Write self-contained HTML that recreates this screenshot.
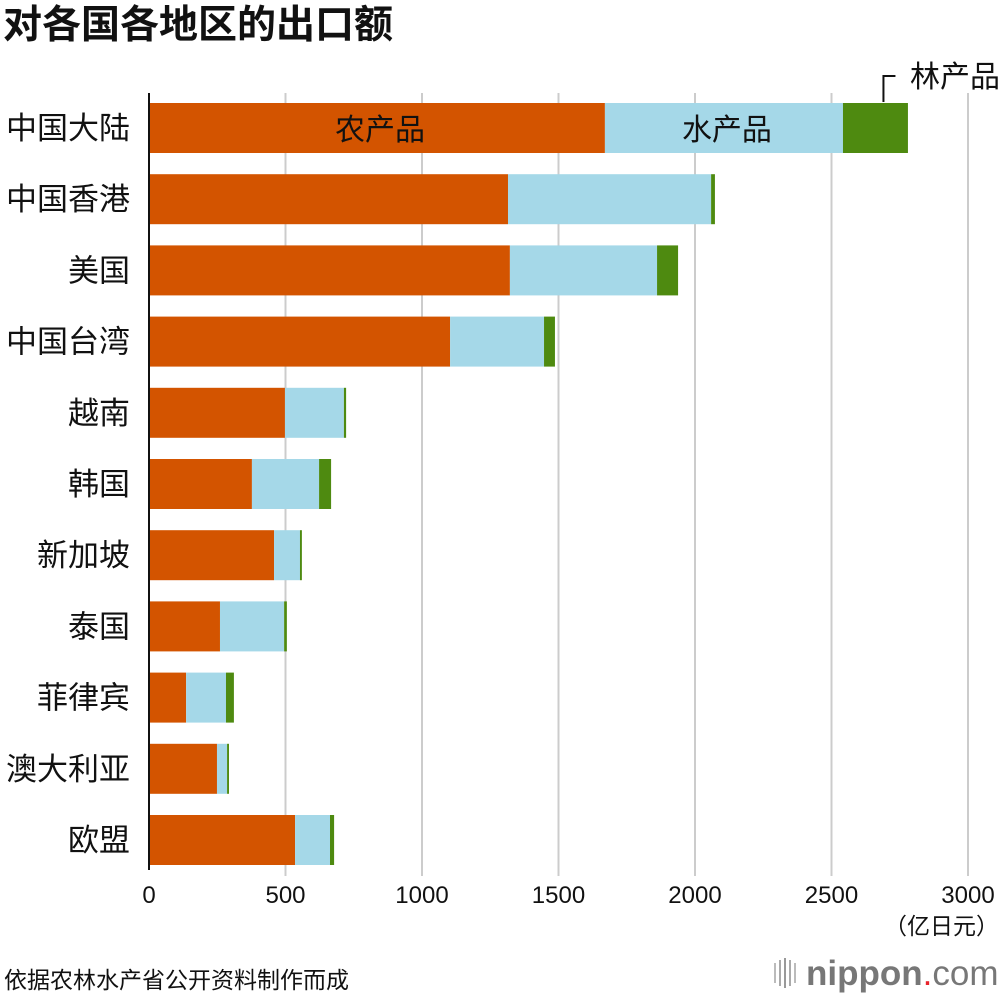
<!DOCTYPE html>
<html><head><meta charset="utf-8"><style>
body{margin:0;background:#fff;}
svg text{font-family:"Liberation Sans","Noto Sans CJK SC",sans-serif;}
</style></head><body>
<svg id="chart" width="1000" height="996" viewBox="0 0 1000 996" xmlns="http://www.w3.org/2000/svg">
<text x="3" y="38" font-size="39" font-weight="bold" fill="#111">对各国各地区的出口额</text>
<g id="grid"></g><g id="bars"></g><g id="labels"></g>
<text x="999" y="934" font-size="23" text-anchor="end" fill="#111">（亿日元）</text>
<text x="4" y="988" font-size="23" fill="#111">依据农林水产省公开资料制作而成</text>
<g>
<rect x="774" y="963" width="2" height="20" fill="#bbb"/><rect x="779" y="960" width="2" height="26" fill="#aaa"/><rect x="784" y="958" width="2" height="30" fill="#999"/><rect x="789" y="960" width="2" height="26" fill="#aaa"/><rect x="794" y="963" width="2" height="20" fill="#bbb"/>
<text x="806" y="985" font-size="35" fill="#777"><tspan font-weight="bold">nippon</tspan><tspan fill="#e8242c">.</tspan><tspan>com</tspan></text>
</g>
</svg>
<script>
const categories=["中国大陆","中国香港","美国","中国台湾","越南","韩国","新加坡","泰国","菲律宾","澳大利亚","欧盟"];
const agri=[1670,1315,1322,1103,498,377,458,260,136,249,535];
const aqua=[872,744,539,344,216,246,95,235,146,37,128];
const forest=[238,14,77,40,8,44,7,10,29,7,15];
const ticks=[0,500,1000,1500,2000,2500,3000];
const colors=["#d35400","#a5d8e8","#4e8a10"];
const NS="http://www.w3.org/2000/svg";
const x=v=>149+v*(968-149)/3000;
const y=i=>103+i*71.2;
const BH=50;
function mk(tag,attrs,parent,txt){const e=document.createElementNS(NS,tag);for(const k in attrs)e.setAttribute(k,attrs[k]);if(txt!=null)e.textContent=txt;parent.appendChild(e);return e;}
const grid=document.getElementById('grid'),bars=document.getElementById('bars'),labels=document.getElementById('labels');
ticks.forEach(t=>{
 if(t>0){const l=mk('line',{x1:x(t),x2:x(t),y1:93,y2:876,stroke:'#ccc','stroke-width':2},grid);
 
 }
 const tx=mk('text',{x:t===3000?x(t)-0:x(t),y:903,'font-size':24,'text-anchor':'middle',fill:'#111'},grid,String(t));
 
 
});
categories.forEach((c,i)=>{
 const segs=[agri[i],aqua[i],forest[i]];let acc=0;
 segs.forEach((v,j)=>{
  const r=mk('rect',{x:x(acc),y:y(i),width:x(acc+v)-x(acc),height:BH,fill:colors[j]},bars);
  
  
  acc+=v;
 });
 const t=mk('text',{x:130,y:y(i)+36,'font-size':31,'text-anchor':'end',fill:'#111'},labels,c);
 
 
});
const ax=mk('line',{x1:149,x2:149,y1:93,y2:870,stroke:'#111','stroke-width':2},bars);


const l1=mk('text',{x:x(agri[0]/2)+3,y:y(0)+37,'font-size':30,'text-anchor':'middle',fill:'#111'},labels,"农产品");


const l2=mk('text',{x:x(agri[0]+aqua[0]/2)+3,y:y(0)+37,'font-size':30,'text-anchor':'middle',fill:'#111'},labels,"水产品");


const fx=x(agri[0]+aqua[0]+forest[0]/2)+8;
const p=mk('path',{d:`M${fx} 102 V76 H${fx+12}`,stroke:'#111','stroke-width':2,fill:'none'},labels);


const l3=mk('text',{x:1000,y:87,'font-size':30,'text-anchor':'end',fill:'#111'},labels,"林产品");


</script>
</body></html>
